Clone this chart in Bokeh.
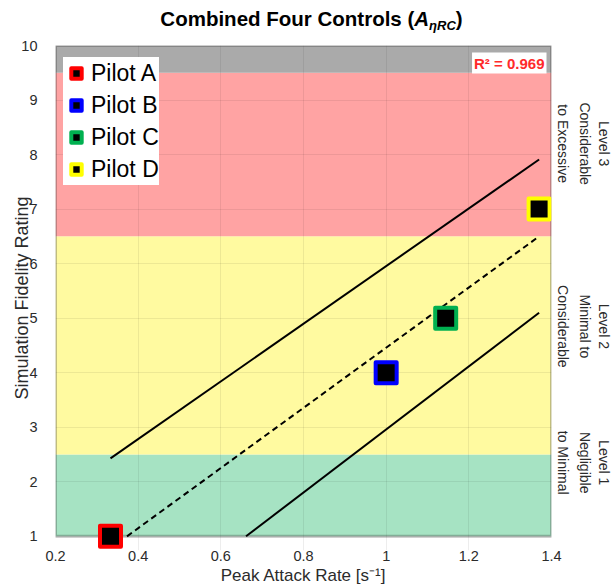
import numpy as np
from bokeh.plotting import figure
from bokeh.layouts import column
from bokeh.models import (BoxAnnotation, Label, Legend, LegendItem, Div,
                          FixedTicker, Range1d, LinearAxis)
from bokeh.embed import file_html
from bokeh.resources import INLINE

# ---- data -------------------------------------------------------------
pilots = ["Pilot A", "Pilot B", "Pilot C", "Pilot D"]
pilot_colors = ["#ff0000", "#0000ff", "#00b050", "#ffff00"]
peak_attack_rate = [0.333, 1.0, 1.144, 1.37]
fidelity_rating = [1, 4, 5, 7]

# regression line and its bounds (end points)
fit_x = [0.373, 1.37]
fit_y = [1.0, 6.50]
upper_x = [0.333, 1.37]
upper_y = [2.43, 7.91]
lower_x = [0.661, 1.37]
lower_y = [1.0, 5.10]
r_squared = "0.969"

# fidelity level bands
band_bottom = [1, 2.5, 6.5, 9.5]
band_top = [2.5, 6.5, 9.5, 10]
band_colors = ["#a6e3c3", "#fffaa0", "#ffa3a3", "#aaaaaa"]

# level descriptions, one list per text column (inner column first)
level_text_y = [2.35, 4.85, 8.2]
level_line3 = ["to Minimal", "Considerable", "to Excessive"]
level_line2 = ["Negligible", "Minimal to", "Considerable"]
level_line1 = ["Level 1", "Level 2", "Level 3"]

x_ticks = [0.2, 0.4, 0.6, 0.8, 1.0, 1.2, 1.4]
x_tick_labels = ["0.2", "0.4", "0.6", "0.8", "1", "1.2", "1.4"]
y_ticks = [1, 2, 3, 4, 5, 6, 7, 8, 9, 10]

FONT = "Liberation Sans"
TEXT = "#2b2b2b"

# ---- title ------------------------------------------------------------
title = Div(
    text=('Combined Four Controls (<i>A</i>'
          '<span style="font-size:13px;font-style:italic;'
          'position:relative;top:4px;">ηRC</span>)'),
    width=614, height=34, margin=(0, 0, 0, 0),
    styles={"font-family": FONT, "font-weight": "bold",
            "font-size": "20.5px", "line-height": "24px",
            "padding-top": "7px", "padding-left": "9px",
            "text-align": "center", "color": "black",
            "box-sizing": "border-box", "width": "614px"})

# ---- figure -----------------------------------------------------------
p = figure(width=614, height=554, output_backend="svg", toolbar_location=None,
           x_range=Range1d(0.2, 1.4), y_range=Range1d(0.74, 10),
           min_border_left=55, min_border_right=62,
           min_border_top=11, min_border_bottom=38)
p.outline_line_color = None
p.background_fill_color = "white"
p.border_fill_color = "white"

# rating bands
for b, t, c in zip(band_bottom, band_top, band_colors):
    p.add_layout(BoxAnnotation(bottom=b, top=t, fill_color=c, fill_alpha=1.0,
                               line_color=None, level="image"))

# grid
for g in (p.xgrid, p.ygrid):
    g.grid_line_color = "black"
    g.grid_line_alpha = 0.07
    g.grid_line_width = 1

# plot frame (1 .. 10 only)
p.add_layout(BoxAnnotation(left=0.2, right=1.4, bottom=1, top=10,
                           fill_alpha=0, line_color="#333333", line_width=3,
                           level="underlay"))

# axes
xa = p.xaxis[0]
xa.ticker = FixedTicker(ticks=x_ticks)
xa.major_label_overrides = dict(zip(x_ticks, x_tick_labels))
ya = p.yaxis[0]
ya.ticker = FixedTicker(ticks=y_ticks)

right_axes = []
for lines, standoff in ((level_line3, 3), (level_line2, 3), (level_line1, 0)):
    ra = LinearAxis(ticker=FixedTicker(ticks=level_text_y),
                    major_label_overrides=dict(zip(level_text_y, lines)),
                    major_label_orientation="parallel",
                    major_label_standoff=standoff)
    p.add_layout(ra, "right")
    right_axes.append(ra)

for ax in [xa, ya] + right_axes:
    ax.axis_line_color = None
    ax.major_tick_line_color = None
    ax.minor_tick_line_color = None
    ax.major_tick_out = 0
    ax.major_tick_in = 0
    ax.minor_tick_out = 0
    ax.minor_tick_in = 0
    ax.major_label_text_font = FONT
    ax.major_label_text_font_size = "14.5px"
    ax.major_label_text_color = TEXT
    ax.axis_label_text_font = FONT
    ax.axis_label_text_font_size = "17px"
    ax.axis_label_text_font_style = "normal"
    ax.axis_label_text_color = TEXT
for ra in right_axes:
    ra.major_label_text_font_size = "14px"
    ra.major_label_text_line_height = 1.0

xa.axis_label = "Peak Attack Rate [s⁻¹]"
xa.major_label_standoff = 0
xa.axis_label_standoff = 2
ya.axis_label = "Simulation Fidelity Rating"
ya.axis_label_text_font_size = "18px"
ya.major_label_standoff = 18
ya.axis_label_standoff = -14

# fit and bounds
p.line(upper_x, upper_y, line_color="black", line_width=2)
p.line(lower_x, lower_y, line_color="black", line_width=2)
p.line(fit_x, fit_y, line_color="black", line_width=2, line_dash="6 4")

# pilots
items = []
for name, col, xv, yv in zip(pilots, pilot_colors, peak_attack_rate, fidelity_rating):
    r = p.scatter([xv], [yv], marker="square", size=21, fill_color="black",
                  line_color=col, line_width=4, line_join="round")
    items.append(LegendItem(label=name, renderers=[r]))

legend = Legend(items=items, location=(8, 365), orientation="vertical",
                label_text_font=FONT, label_text_font_size="23px",
                label_text_color="black", glyph_width=26, glyph_height=32,
                spacing=0, padding=0, margin=0, label_standoff=2,
                border_line_color=None, background_fill_color="white",
                background_fill_alpha=1.0)
p.add_layout(legend)

# R^2 box
p.add_layout(Label(x=491, y=498, x_units="screen", y_units="screen",
                   text=f"R² = {r_squared}", text_align="right",
                   text_baseline="top", text_font=FONT,
                   text_font_size="15px", text_font_style="bold",
                   text_color="#ff2a2a", background_fill_color="white",
                   padding=2))

layout = column(title, p, spacing=0)
open("out.html", "w").write(file_html(layout, INLINE))
